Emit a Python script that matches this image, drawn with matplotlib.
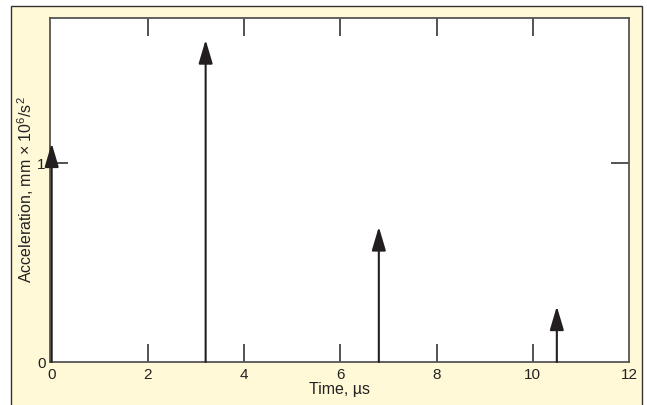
import matplotlib
matplotlib.use("Agg")
import matplotlib.pyplot as plt
from matplotlib.patches import Rectangle

plt.rcParams['font.family'] = ['Liberation Sans', 'DejaVu Sans']
plt.rcParams['mathtext.fontset'] = 'custom'
plt.rcParams['mathtext.rm'] = 'Liberation Sans'
plt.rcParams['mathtext.it'] = 'Liberation Sans'

# Data
times = [0, 3.2, 6.8, 10.5]
accel = [1.1, 1.62, 0.68, 0.28]
xticks = [0, 2, 4, 6, 8, 10, 12]
yticks = [0, 1]
xlabel = "Time, µs"
ylabel = "Acceleration, mm × 10$^{6}$/s$^{2}$"

W, H = 647, 405
fig = plt.figure(figsize=(W / 100, H / 100), dpi=100)
fig.patch.set_facecolor('white')

# cream outer panel on a background axes
bg = fig.add_axes([0, 0, 1, 1], zorder=-1)
bg.set_xlim(0, W)
bg.set_ylim(H, 0)
bg.axis('off')
bg.add_patch(Rectangle((11, 5.5), 642 - 11, H + 10, facecolor='#fff9d8',
                       edgecolor='#333333', linewidth=1.0))

ax = fig.add_axes([50 / W, (H - 362) / H, (629 - 50) / W, (362 - 18) / H], zorder=1)
ax.set_facecolor('white')
ax.set_xlim(-0.035, 12)
ax.set_ylim(0, 1.73)

for s in ax.spines.values():
    s.set_color('#555555')
    s.set_linewidth(1.3)

ax.set_xticks(xticks)
ax.set_xticklabels([str(t) for t in xticks])
ax.set_yticks(yticks)
ax.set_yticklabels([str(t) for t in yticks])
ax.tick_params(axis='both', direction='in', length=13, width=1.3, color='#444444',
               labelsize=11, labelcolor='#222222', top=True, right=True)
ax.tick_params(axis='x', pad=4)
ax.tick_params(axis='y', pad=3)

# hide tick marks at the ends
xt = ax.xaxis.get_major_ticks()
for t in (xt[0], xt[-1]):
    t.tick1line.set_visible(False)
    t.tick2line.set_visible(False)
yt = ax.yaxis.get_major_ticks()
yt[0].tick1line.set_visible(False)
yt[0].tick2line.set_visible(False)

ax.set_xlabel(xlabel, fontsize=11.5, color='#222222', labelpad=0)
ax.set_ylabel(ylabel, fontsize=11.5, color='#222222')
ax.yaxis.set_label_coords(-0.024, 0.5)

for t, a in zip(times, accel):
    ax.annotate('', xy=(t, a), xytext=(t, 0),
                arrowprops=dict(arrowstyle='-|>,head_length=1.45,head_width=0.43',
                                mutation_scale=10, color='#231f20',
                                linewidth=1.5, shrinkA=0, shrinkB=0),
                annotation_clip=False)

fig.savefig('out.png', dpi=100)
